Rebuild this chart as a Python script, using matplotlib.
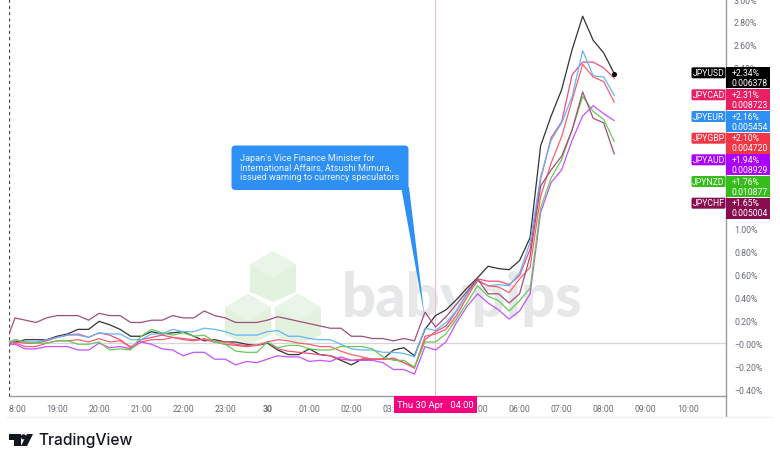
import numpy as np
import matplotlib
matplotlib.use('Agg')
import matplotlib.pyplot as plt
from matplotlib.patches import Polygon, Rectangle, FancyBboxPatch, Circle

plt.rcParams['font.family'] = ['Roboto', 'DejaVu Sans']

# hours counted from 18:00 of the day before, one point each 15 min
first_hour = -0.15
hours = [first_hour] + [i * 0.25 for i in range(58)]

usd = [0.00, 0.01, 0.03, 0.03, 0.03, 0.06, 0.08, 0.12, 0.12, 0.19, 0.16, 0.12, 0.06, 0.06, 0.10, 0.08, 0.09, 0.10, 0.06, 0.02, 0.03, 0.01, 0.01, -0.01, -0.02,
       0.00, -0.06, -0.10, -0.10, -0.05, -0.10, -0.11, -0.15, -0.19, -0.14, -0.14, -0.14, -0.06, -0.04, -0.11,
       0.12, 0.24, 0.29, 0.38, 0.48, 0.57, 0.67, 0.65, 0.64, 0.72, 0.92,
       1.72, 1.98, 2.21, 2.56, 2.85, 2.64, 2.53, 2.35]
cad = [0.01, 0.01, 0.00, 0.00, 0.02, 0.05, 0.07, 0.08, 0.05, 0.09, 0.07, 0.03, -0.04, 0.03, 0.05, 0.07, 0.05, 0.04, 0.03, 0.03, 0.01, -0.01, -0.02, -0.03, -0.02,
       0.01, -0.05, -0.07, -0.08, -0.09, -0.10, -0.11, -0.14, -0.15, -0.14, -0.14, -0.14, -0.13, -0.17, -0.21,
       0.03, 0.10, 0.15, 0.28, 0.43, 0.56, 0.54, 0.54, 0.51, 0.59, 0.82,
       1.43, 1.79, 1.93, 2.34, 2.45, 2.45, 2.40, 2.31]
eur = [0.01, 0.03, 0.01, 0.01, 0.03, 0.05, 0.07, 0.07, 0.05, 0.09, 0.08, 0.08, 0.03, 0.03, 0.08, 0.08, 0.12, 0.10, 0.10, 0.13, 0.12, 0.10, 0.07, 0.07, 0.07,
       0.10, 0.11, 0.06, 0.06, 0.04, 0.03, 0.03, -0.01, -0.05, -0.06, -0.06, -0.08, -0.08, -0.09, -0.12,
       0.13, 0.11, 0.18, 0.28, 0.43, 0.54, 0.50, 0.51, 0.50, 0.61, 0.88,
       1.45, 1.77, 1.92, 2.15, 2.55, 2.33, 2.32, 2.16]
gbp = [0.01, 0.00, -0.03, -0.03, 0.00, 0.02, 0.02, 0.03, 0.01, 0.04, 0.01, 0.02, -0.03, 0.01, 0.03, 0.03, 0.05, 0.03, 0.02, 0.04, 0.01, 0.01, -0.01, -0.02, -0.02,
       0.01, 0.03, 0.02, 0.00, -0.01, -0.03, -0.03, -0.07, -0.10, -0.12, -0.14, -0.14, -0.14, -0.17, -0.22,
       0.06, 0.08, 0.12, 0.24, 0.40, 0.55, 0.50, 0.49, 0.44, 0.56, 0.66,
       1.28, 1.57, 1.80, 2.12, 2.43, 2.32, 2.28, 2.10]
aud = [-0.01, -0.01, -0.05, -0.05, -0.03, -0.03, -0.03, -0.06, -0.06, 0.00, -0.04, -0.03, -0.05, 0.01, -0.01, -0.05, -0.06, -0.11, -0.08, -0.08, -0.14, -0.14, -0.19, -0.16, -0.17,
       -0.14, -0.11, -0.12, -0.12, -0.16, -0.15, -0.16, -0.12, -0.15, -0.15, -0.15, -0.17, -0.23, -0.23, -0.27,
       -0.03, -0.06, 0.01, 0.18, 0.32, 0.43, 0.35, 0.29, 0.21, 0.28, 0.43,
       1.14, 1.40, 1.51, 1.77, 1.98, 2.07, 2.00, 1.94]
nzd = [0.00, 0.03, 0.01, 0.00, 0.00, 0.02, 0.02, -0.01, -0.01, 0.01, -0.06, -0.05, -0.06, 0.06, 0.12, 0.09, 0.07, 0.09, 0.06, 0.07, 0.01, -0.01, -0.07, -0.08, -0.08,
       0.01, -0.04, -0.02, -0.02, -0.05, -0.06, -0.06, -0.03, -0.03, -0.03, -0.05, -0.12, -0.15, -0.15, -0.21,
       0.01, 0.01, 0.08, 0.21, 0.35, 0.50, 0.41, 0.37, 0.28, 0.37, 0.48,
       1.18, 1.44, 1.60, 1.86, 2.15, 2.02, 1.95, 1.76]
chf = [0.07, 0.22, 0.20, 0.18, 0.22, 0.24, 0.24, 0.24, 0.20, 0.26, 0.24, 0.24, 0.18, 0.18, 0.20, 0.20, 0.24, 0.22, 0.22, 0.28, 0.24, 0.22, 0.18, 0.18, 0.18,
       0.20, 0.23, 0.21, 0.19, 0.17, 0.15, 0.13, 0.13, 0.06, 0.06, 0.04, 0.04, 0.02, 0.04, 0.02,
       0.27, 0.14, 0.23, 0.34, 0.45, 0.56, 0.43, 0.43, 0.35, 0.43, 0.76,
       1.37, 1.51, 1.63, 1.86, 2.19, 1.96, 1.92, 1.65]

names = ['JPYUSD', 'JPYCAD', 'JPYEUR', 'JPYGBP', 'JPYAUD', 'JPYNZD', 'JPYCHF']
series = [usd, cad, eur, gbp, aud, nzd, chf]
pct_labels = ['+2.34%', '+2.31%', '+2.16%', '+2.10%', '+1.94%', '+1.76%', '+1.65%']
price_labels = ['0.006378', '0.008723', '0.005454', '0.004720', '0.008929', '0.010877', '0.005004']
box_colors = ['#000000', '#e91e63', '#2e90f5', '#f23645', '#aa00ff', '#36bd1c', '#880e4f']
line_colors = ['#333333', '#ee4f80', '#64b5f6', '#f9606c', '#c651ff', '#66cc55', '#a14f7c']

x_ticks = list(range(0, 17))
x_labels = ['18:00', '19:00', '20:00', '21:00', '22:00', '23:00', '30', '01:00', '02:00', '03:00',
            '04:00', '05:00', '06:00', '07:00', '08:00', '09:00', '10:00']
# the scale labels behind the currency boxes are left out
y_ticks = [-0.4, -0.2, 0.0, 0.2, 0.4, 0.6, 0.8, 1.0, 2.4, 2.6, 2.8, 3.0]

W, H = 780, 464
fig = plt.figure(figsize=(7.8, 4.64), dpi=100)
grey = '#6a6d78'
axis_col = '#9a9ca3'

# background layer in pixels: watermark
bg = fig.add_axes([0, 0, 1, 1], zorder=0)
bg.set_xlim(0, W)
bg.set_ylim(H, 0)
bg.axis('off')


def cube(cx, top):
    w, h = 23, 13.5
    bg.add_patch(Polygon([(cx, top), (cx + w, top + h), (cx + w, top + 3 * h + 0.5), (cx, top + 4 * h - 3),
                          (cx - w, top + 3 * h + 0.5), (cx - w, top + h)], fc='#e3f2df', ec='none'))
    bg.add_patch(Polygon([(cx, top), (cx + w, top + h), (cx, top + 2 * h), (cx - w, top + h)], fc='#e9f5e6', ec='none'))


cube(273, 252)
cube(248, 295)
cube(298, 295)
bg.text(462, 299, 'babypips', fontsize=43, fontweight='black', family='Lato', color='#e6e7e9',
        ha='center', va='center')

# main chart
ax = fig.add_axes([9 / W, 1 - 397 / H, (725.7 - 9) / W, 397 / H], zorder=1)
ax.patch.set_visible(False)
ax.set_xlim((9 - 15) / 42.05, (725.7 - 15) / 42.05)
ax.set_ylim((344 - 397) / 115, 344 / 115)
for s in ['top', 'left']:
    ax.spines[s].set_visible(False)
for s in ['bottom', 'right']:
    ax.spines[s].set_color(axis_col)
    ax.spines[s].set_linewidth(1)
ax.axhline(0, color='#d5d6da', lw=0.9, zorder=1)
ax.axvline(10, color='#f7bcd8', lw=0.9, zorder=1)
ax.axvline(first_hour, color='#444444', lw=0.9, ls=(0, (2.5, 2.5)), zorder=1)

for vals, col in zip(series, line_colors):
    ax.plot(hours, vals, color=col, lw=0.9, zorder=3)
ax.plot(hours[-1], usd[-1], 'o', color='black', ms=2.6, zorder=4)

ax.set_xticks(x_ticks)
ax.set_xticklabels(x_labels, fontsize=6.3, color=grey)
ax.yaxis.tick_right()
ax.set_yticks(y_ticks)
ax.set_yticklabels(['\u2212' + f'{-v:.2f}%' if v < 0 else ('\u22120.00%' if v == 0 else f'{v:.2f}%') for v in y_ticks],
                   fontsize=6.3, color=grey)
ax.tick_params(length=0, pad=6)
ax.get_xticklabels()[6].set_fontweight('bold')

# top layer in pixels
ov = fig.add_axes([0, 0, 1, 1], zorder=2)
ov.set_xlim(0, W)
ov.set_ylim(H, 0)
ov.axis('off')
ov.patch.set_visible(False)

ov.add_patch(Rectangle((0, 397.5), 8.5, 19, fc='white', ec='none'))
ov.plot([725.7, 725.7], [397, 417], color=axis_col, lw=1)
ov.plot([7, 772], [417.5, 417.5], color='#f0f1f3', lw=1)

# date label
ov.add_patch(Rectangle((394, 397), 83, 16.5, fc='#f4047e', ec='none'))
ov.text(435.5, 405.5, 'Thu 30 Apr   04:00', color='white', fontsize=6.8, ha='center', va='center')

# callout
blue = '#2e90f5'
ov.add_patch(FancyBboxPatch((235, 150), 170, 37.5, boxstyle='round,pad=3.5,rounding_size=4', fc=blue, ec='none'))
ov.add_patch(Polygon([(401.5, 190), (409, 188), (424.5, 317)], fc=blue, ec='none'))
callout = ["Japan's Vice Finance Minister for", 'International Affairs, Atsushi Mimura,', 'issued warning to currency speculators']
for i, line in enumerate(callout):
    ov.text(240, 159 + i * 9.4, line, color='#eaf3fe', fontsize=6.6, va='center')

# labels on the scale
tops = [68.3, 90.3, 112, 133.7, 155.3, 177, 198.7]
for top, name, pct, price, col in zip(tops, names, pct_labels, price_labels, box_colors):
    ov.add_patch(FancyBboxPatch((692, top + 0.5), 33, 10, boxstyle='round,pad=0.5,rounding_size=1.5', fc=col, ec='none'))
    ov.add_patch(Rectangle((726, top), 43.5, 21, fc=col, ec='none'))
    ov.text(708.5, top + 5.3, name, color='white', fontsize=6.2, ha='center', va='center')
    ov.text(732, top + 5.3, pct, color='white', fontsize=6.2, va='center')
    ov.text(732, top + 15.3, price, color='white', fontsize=6.2, va='center')

# TradingView logo
ov.add_patch(Polygon([(9, 435), (21, 435), (21, 447), (14, 447), (14, 440.5), (9, 440.5)], fc='#131722', ec='none'))
ov.add_patch(Circle((23.5, 437.8), 2.6, fc='#131722', ec='none'))
ov.add_patch(Polygon([(27, 435), (33, 435), (27, 447), (21, 447)], fc='#131722', ec='none'))
ov.text(38, 441, 'TradingView', color='#131722', fontsize=11.2, fontweight='medium', family='Inter', va='center')

fig.savefig('out.png', dpi=100)
